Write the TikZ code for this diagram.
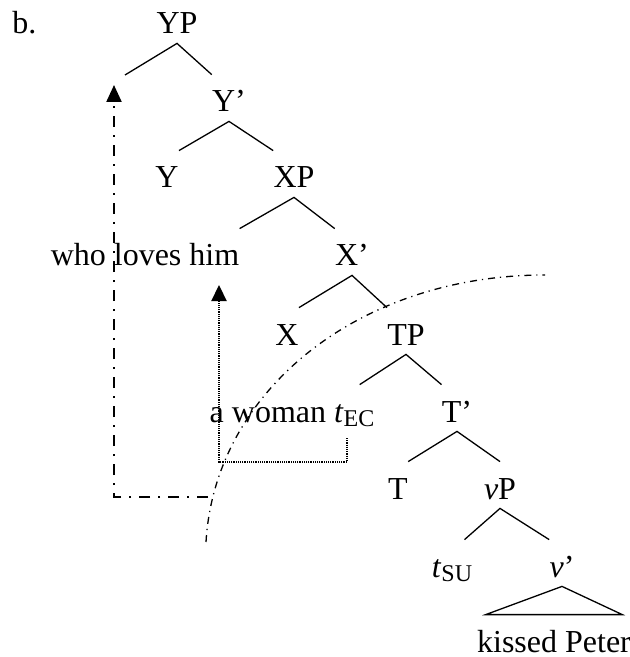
\documentclass[tikz,border=0pt]{standalone}
\usepackage{fontspec}
\setmainfont{Liberation Serif}
\usetikzlibrary{arrows.meta}

\newcommand{\lowsub}[1]{\raisebox{-2pt}{\fontsize{12}{12}\selectfont #1}}

\tikzset{
  syn/.style={inner sep=0pt, anchor=base, text height=18.5pt, text depth=4.5pt},
  branch/.style={line width=0.65pt},
  longmove/.style={line width=1.1pt, dash pattern=on 5.5pt off 4pt on 1pt off 4pt,
    -{Triangle[width=7.5pt, length=8.5pt]}},
  shortmove/.style={line width=1.1pt, dash pattern=on 0.6pt off 0.5pt,
    -{Triangle[width=7.5pt, length=8pt]}},
  boundary/.style={line width=0.65pt, dash pattern=on 3.5pt off 2.5pt on 0.6pt off 2.5pt}
}

\begin{document}
\begin{tikzpicture}[x=0.5pt, y=-0.5pt, font=\fontsize{16}{19}\selectfont]
  \useasboundingbox (0,0) rectangle (630,657);
  \node[anchor=base west, inner sep=0pt] (lbl) at (12,34) {b.};

  % tree
  \node[syn] (yp)  at (177,34)  {YP};
  \coordinate (spec) at (125,75);
  \node[syn] (yb)  at (229,112) {Y’};
  \node[syn] (y)   at (167,188) {Y};
  \node[syn] (xp)  at (294,188) {XP};
  \node[syn] (wlh) at (145,266) {who loves him};
  \node[syn] (xb)  at (352,266) {X’};
  \node[syn] (x)   at (287,345) {X};
  \node[syn] (tp)  at (406,345) {TP};
  \node[syn] (aw)  at (292,422) {a woman \textit{t}\lowsub{EC}};
  \node[syn] (tb)  at (457,422) {T’};
  \node[syn] (t)   at (398,499) {T};
  \node[syn] (vp)  at (500,499) {\textit{v}P};
  \node[syn] (tsu) at (452,577) {\textit{t}\lowsub{SU}};
  \node[syn] (vb)  at (562,577) {\textit{v}’};
  \node[syn] (kp)  at (554,652) {kissed Peter};

  \draw[branch] (spec) -- (yp.south) -- (yb.north west);
  \draw[branch] (y.north east) -- (yb.south) -- (xp.north west);
  \draw[branch] (wlh.north east) -- (xp.south) -- (xb.north west);
  \draw[branch] (x.north east) -- (xb.south) -- (tp.north west);
  \draw[branch] ([xshift=-7.5pt]aw.north east) -- (tp.south) -- (tb.north west);
  \draw[branch] (t.north east) -- (tb.south) -- (vp.north);
  \draw[branch] ([xshift=-4pt]tsu.north east) -- (vp.south) -- (vb.north west);
  \draw[branch] (vb.south) -- ([xshift=4.5pt]kp.north west)
    -- ([xshift=-4.5pt]kp.north east) -- cycle;

  % movement paths
  \coordinate (hd1) at (114,85);
  \coordinate (tl1) at (208,497);
  \draw[longmove] (tl1) -| (hd1);

  \coordinate (tl2) at (347,438);
  \coordinate (bend2) at (219,462);
  \coordinate (hd2) at (219,285);
  \draw[shortmove] (tl2) |- (bend2) -- (hd2);

  % boundary
  \coordinate (bd1) at (206,542);
  \coordinate (bd2) at (545,275);
  \draw[boundary] (bd1) .. controls (215,390) and (360,275) .. (bd2);
\end{tikzpicture}
\end{document}
